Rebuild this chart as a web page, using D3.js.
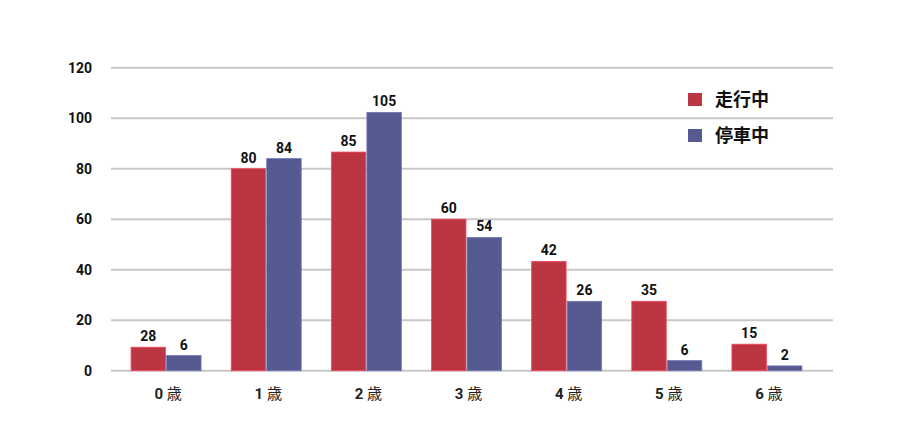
<!DOCTYPE html>
<html><head><meta charset="utf-8">
<script src="https://cdn.jsdelivr.net/npm/d3@7"></script>
<style>
html,body{margin:0;padding:0;background:#fff;}
svg{display:block;}
.num{font-family:"Roboto","DejaVu Sans Condensed",sans-serif;font-weight:bold;}
.cjk{font-family:"Noto Sans CJK JP",sans-serif;}
</style>
</head><body>
<svg id="chart" width="900" height="421"></svg>
<script>
const categories = ["0","1","2","3","4","5","6"];
const seriesNames = ["走行中","停車中"];
const seriesColors = ["#BC3543","#555A90"];
// bar heights as drawn in the picture
const runningBars = [9.3, 80, 86.6, 60, 43.3, 27.5, 10.5];
const stoppedBars = [6, 84, 102.3, 52.8, 27.5, 4, 1.9];
// value labels as printed
const runningLabels = [28, 80, 85, 60, 42, 35, 15];
const stoppedLabels = [6, 84, 105, 54, 26, 6, 2];
const yTicks = [0, 20, 40, 60, 80, 100, 120];

const svg = d3.select("#chart");
const y = d3.scaleLinear().domain([0, 120]).range([370.7, 67.7]);
const x = d3.scaleBand().domain(categories).range([116, 817]).paddingInner(0).paddingOuter(0);
const inner = d3.scaleBand().domain([0,1]).range([0, 70]).paddingInner(0.03);
const groupOffset = (x.bandwidth() - 70) / 2;

// gridlines
svg.append("g").selectAll("line").data(yTicks).join("line")
  .attr("x1", 111).attr("x2", 833)
  .attr("y1", d => y(d)).attr("y2", d => y(d))
  .attr("stroke", "#c8c8c8").attr("stroke-width", 2);

// y tick labels
svg.append("g").selectAll("text").data(yTicks).join("text")
  .attr("class", "num")
  .attr("x", 92).attr("y", d => y(d)).attr("dy", "0.36em")
  .attr("text-anchor", "end").attr("font-size", 14).attr("fill", "#111")
  .text(d => d);

const series = [
  {bars: runningBars, labels: runningLabels},
  {bars: stoppedBars, labels: stoppedLabels}
];

series.forEach((s, si) => {
  const g = svg.append("g");
  g.selectAll("rect").data(categories).join("rect")
    .attr("x", (c) => x(c) + groupOffset + inner(si))
    .attr("width", inner.bandwidth())
    .attr("y", (c, i) => y(s.bars[i]))
    .attr("height", (c, i) => y(0) - y(s.bars[i]))
    .attr("fill", seriesColors[si])
    .attr("stroke", d3.color(seriesColors[si]).brighter(0.8))
    .attr("stroke-width", 0.8);
  g.selectAll("text").data(categories).join("text")
    .attr("class", "num")
    .attr("x", (c) => x(c) + groupOffset + inner(si) + inner.bandwidth() / 2)
    .attr("y", (c, i) => y(s.bars[i]) - 6)
    .attr("text-anchor", "middle").attr("font-size", 14).attr("fill", "#111")
    .text((c, i) => s.labels[i]);
});

// x category labels
const xl = svg.append("g").selectAll("text").data(categories).join("text")
  .attr("x", c => x(c) + x.bandwidth() / 2 + 2)
  .attr("y", 399)
  .attr("text-anchor", "middle").attr("font-size", 15).attr("fill", "#222");
xl.append("tspan").attr("class", "num").text(c => c + " ");
xl.append("tspan").attr("class", "cjk").attr("font-size", 15).text("歳");

// legend
const lg = svg.append("g").selectAll("g").data(seriesNames).join("g")
  .attr("transform", (d, i) => `translate(688, ${93 + i * 36})`);
lg.append("rect").attr("width", 14).attr("height", 13)
  .attr("fill", (d, i) => seriesColors[i]);
lg.append("text").attr("class", "cjk")
  .attr("x", 27).attr("y", 6.5).attr("dy", "0.36em")
  .attr("font-size", 18).attr("font-weight", "bold").attr("fill", "#111")
  .text(d => d);
</script>
</body></html>
